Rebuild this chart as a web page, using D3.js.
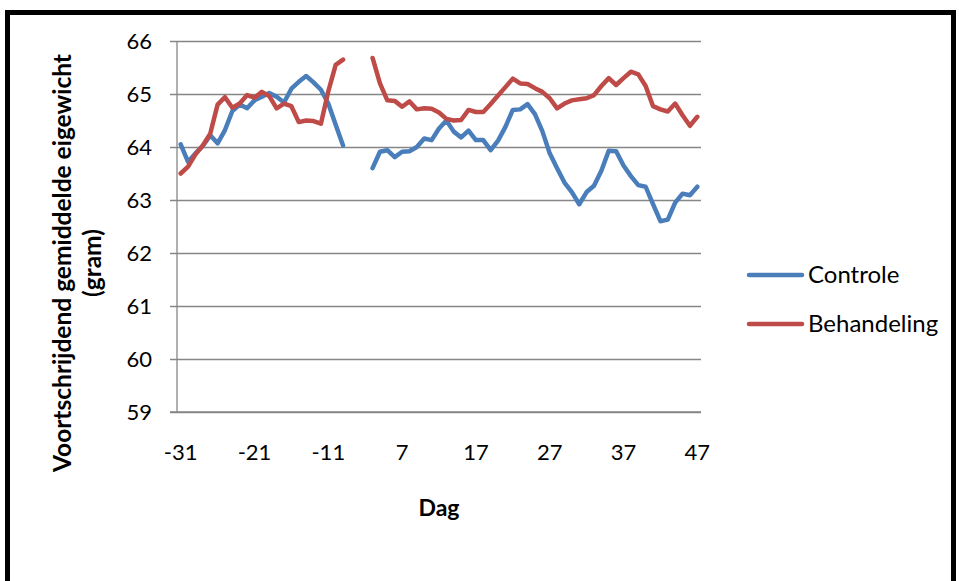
<!DOCTYPE html>
<html>
<head>
<meta charset="utf-8">
<script src="https://cdn.jsdelivr.net/npm/d3@7"></script>
<style>
  html, body { margin: 0; padding: 0; background: #fff; }
  svg { display: block; }
  text { font-family: Lato, "Noto Sans", sans-serif; fill: #000; }
</style>
</head>
<body>
<svg id="chart" width="959" height="581"></svg>
<script>
// Days on the x axis (days -8 .. -1 are not part of the series)
const dagen = d3.range(-31, -8).concat(d3.range(0, 48));

// Labelled days on the x axis
const dagLabels = [-31, -21, -11, 7, 17, 27, 37, 47];

// Y axis ticks (gram)
const yTicks = [59, 60, 61, 62, 63, 64, 65, 66];

// Moving-average body weight, control group (null = no measurement)
const controle = [
  64.05, 63.72, 63.88, 64.02, 64.22, 64.07, 64.32, 64.68, 64.80, 64.73,
  64.88, 64.95, 65.02, 64.95, 64.84, 65.10, 65.23, 65.34, 65.22, 65.08,
  64.82, 64.42, 64.03,
  null, null, null,
  63.60, 63.91, 63.94, 63.81, 63.91, 63.92, 64.00, 64.16, 64.13, 64.35,
  64.50, 64.29, 64.18, 64.31, 64.13, 64.13, 63.94, 64.12, 64.38, 64.70,
  64.71, 64.81, 64.62, 64.30, 63.88, 63.60, 63.33, 63.15, 62.92, 63.15,
  63.27, 63.55, 63.93, 63.92, 63.65, 63.45, 63.28, 63.25, 62.92, 62.60,
  62.63, 62.95, 63.12, 63.09, 63.25
];

// Moving-average body weight, treatment group
const behandeling = [
  63.50, 63.63, 63.86, 64.03, 64.25, 64.80, 64.94, 64.74, 64.82, 64.98,
  64.93, 65.04, 64.96, 64.73, 64.82, 64.77, 64.47, 64.50, 64.49, 64.44,
  65.05, 65.55, 65.65,
  null, null, null,
  65.68, 65.20, 64.88, 64.87, 64.76, 64.86, 64.71, 64.73, 64.72, 64.65,
  64.53, 64.50, 64.51, 64.70, 64.66, 64.66, 64.81, 64.97, 65.13, 65.29,
  65.20, 65.19, 65.11, 65.04, 64.92, 64.73, 64.82, 64.88, 64.90, 64.92,
  64.98, 65.15, 65.30, 65.17, 65.30, 65.42, 65.37, 65.15, 64.77, 64.71,
  64.67, 64.82, 64.60, 64.40, 64.57
];

const seriesNames = ["Controle", "Behandeling"];
const seriesColors = ["#4a7ebb", "#be4b48"];

const svg = d3.select("#chart");

// outer frame
svg.append("rect")
  .attr("x", 7.5).attr("y", 12.5)
  .attr("width", 946).attr("height", 640)
  .attr("fill", "none").attr("stroke", "#000").attr("stroke-width", 5);

const plot = { left: 177, right: 701, top: 41, bottom: 412 };

const x = d3.scaleBand()
  .domain(dagen)
  .range([plot.left, plot.right])
  .padding(0);
const xc = d => x(d) + x.bandwidth() / 2;

const y = d3.scaleLinear()
  .domain([59, 66])
  .range([plot.bottom, plot.top]);

// horizontal gridlines + y axis
const yAxis = d3.axisLeft(y)
  .tickValues(yTicks)
  .tickFormat(d3.format("d"))
  .tickSize(-(plot.right - plot.left))
  .tickPadding(25);
const gy = svg.append("g")
  .attr("transform", `translate(${plot.left},0)`)
  .call(yAxis);
gy.select(".domain").remove();
gy.selectAll(".tick line")
  .attr("x1", -7)
  .attr("stroke", "#868686")
  .attr("stroke-width", 1.3);
gy.selectAll(".tick text")
  .style("font-size", "22px")
  .attr("fill", "#000");

// vertical axis line
svg.append("line")
  .attr("x1", plot.left).attr("x2", plot.left)
  .attr("y1", plot.top).attr("y2", plot.bottom)
  .attr("stroke", "#868686").attr("stroke-width", 1.3);

// x axis
const xAxis = d3.axisBottom(x)
  .tickValues(dagLabels)
  .tickSize(0)
  .tickPadding(32);
const gx = svg.append("g")
  .attr("transform", `translate(0,${plot.bottom})`)
  .call(xAxis);
gx.select(".domain")
  .attr("d", `M${plot.left - 7},0H${plot.right}`)
  .attr("stroke", "#868686")
  .attr("stroke-width", 1.3);
gx.selectAll(".tick text")
  .style("font-size", "22px")
  .attr("fill", "#000");

// series lines
const series = [controle, behandeling];
const line = d3.line()
  .defined(d => d.v !== null)
  .x(d => xc(d.dag))
  .y(d => y(d.v));

series.forEach((vals, k) => {
  const pts = dagen.map((dag, i) => ({ dag, v: vals[i] }));
  svg.append("path")
    .datum(pts)
    .attr("d", line)
    .attr("fill", "none")
    .attr("stroke", seriesColors[k])
    .attr("stroke-width", 4.5)
    .attr("stroke-linejoin", "round")
    .attr("stroke-linecap", "round");
});

// axis titles
svg.append("text")
  .attr("x", 439).attr("y", 516)
  .attr("text-anchor", "middle")
  .style("font-size", "23px").style("font-weight", "bold")
  .text("Dag");

const yt = svg.append("text")
  .attr("transform", "translate(0,263) rotate(-90)")
  .attr("text-anchor", "middle")
  .style("font-size", "24.5px").style("font-weight", "bold");
yt.append("tspan").attr("x", 0).attr("y", 71).text("Voortschrijdend gemiddelde eigewicht");
yt.append("tspan").attr("x", 0).attr("y", 101).text("(gram)");

// legend
const legend = svg.append("g");
seriesNames.forEach((name, k) => {
  const ly = 275 + k * 49;
  legend.append("line")
    .attr("x1", 749).attr("x2", 802)
    .attr("y1", ly).attr("y2", ly)
    .attr("stroke", seriesColors[k])
    .attr("stroke-width", 4.5)
    .attr("stroke-linecap", "round");
  legend.append("text")
    .attr("x", 808).attr("y", ly)
    .attr("dy", "0.35em")
    .style("font-size", "24px")
    .text(name);
});
</script>
</body>
</html>
